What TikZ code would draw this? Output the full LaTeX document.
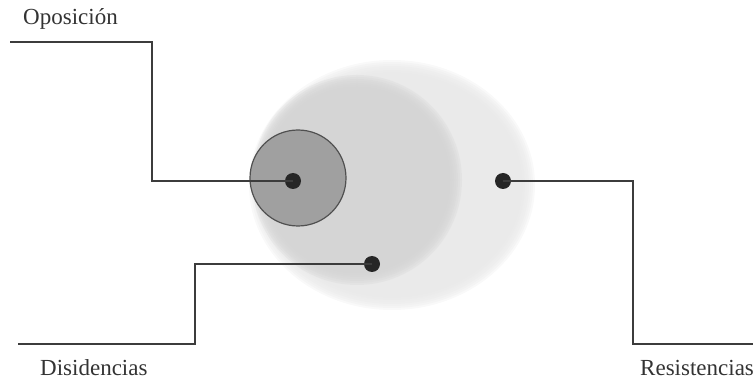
\documentclass[tikz,border=0pt]{standalone}
\usepackage{fontspec}
\setmainfont{Liberation Serif}
\usetikzlibrary{positioning}
\definecolor{blobouter}{RGB}{232,232,232}
\definecolor{blobmid}{RGB}{212,212,212}
\definecolor{blobcore}{RGB}{160,160,160}
\definecolor{inkline}{RGB}{60,60,60}
\tikzset{
  leadline/.style={draw=inkline,line width=1.6pt},
  dotmark/.style={circle,fill=black!85,inner sep=0pt,minimum size=16pt},
  labelfont/.style={font=\fontsize{23}{27}\selectfont,text=black!80,inner sep=0pt},
}
\newcommand{\fuzzy}[5]{%
  \foreach \k in {0,...,6}{%
    \fill[#5,opacity=0.28] (#1,#2) ellipse ({#3+7-2*\k} and {#4+7-2*\k});}%
}
\begin{document}
\begin{tikzpicture}[x=1pt,y=-1pt]
        \useasboundingbox (0,0) rectangle (753,382);
        % blobs
        \fuzzy{392}{185}{136}{118}{blobouter}
        \fuzzy{357}{180}{98}{98}{blobmid}
        \draw[fill=blobcore,draw=inkline!90,line width=1.2pt] (298,178) circle (48);
        % dots
        \node[dotmark] (opos) at (293,181) {};
        \node[dotmark] (disid) at (372,264) {};
        \node[dotmark] (resist) at (503,181) {};
        % leader lines
        \coordinate (oposend) at (10,42);
        \coordinate (disidend) at (18,344);
        \coordinate (resistend) at (753,344);
        \draw[leadline] (oposend) -| (152,181) -- (opos.center);
        \draw[leadline] (disidend) -| (195,264) -- (disid.center);
        \draw[leadline] (resist.center) -| (633,344) -- (resistend);
        % labels
        \node[labelfont,anchor=base west] (oposlbl) at (23,25) {Oposición};
        \node[labelfont,anchor=base west] (disidlbl) at (40,375) {Disidencias};
        \node[labelfont,anchor=base west] (resistlbl) at (640,375) {Resistencias};
      \end{tikzpicture}
\end{document}
